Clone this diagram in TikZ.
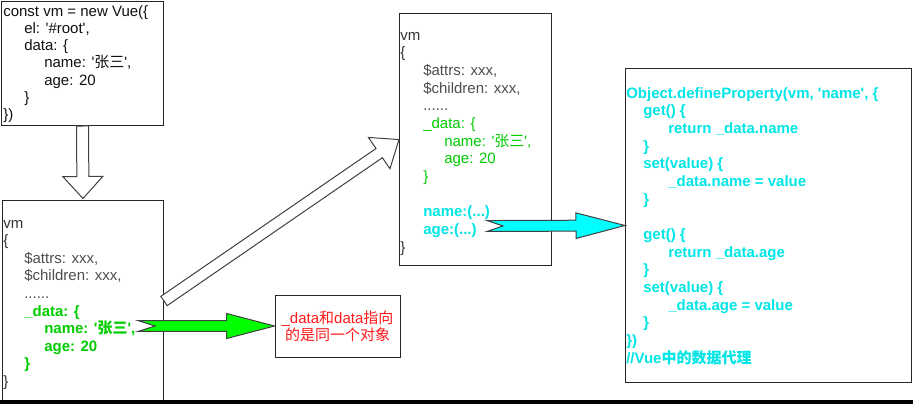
\documentclass[tikz,border=0pt]{standalone}
\usepackage{fontspec}
\setmainfont{Liberation Sans}
\newfontfamily\cjkf{Noto Sans CJK SC}
\usetikzlibrary{calc}
\newcommand\zh[1]{{\cjkf #1}}
\newcommand\q{\textquotesingle}
\newcommand\fs{\fontsize{11.25pt}{13.2pt}\selectfont}
\definecolor{dk}{HTML}{111111}
\definecolor{dg}{HTML}{333333}
\definecolor{gy}{HTML}{4D4D4D}
\definecolor{gr}{HTML}{00CC00}
\definecolor{cy}{HTML}{00E5E5}
\definecolor{cyfill}{HTML}{00FFFF}
\definecolor{grfill}{HTML}{00FF00}
\definecolor{rd}{HTML}{FF1A1A}
\tikzset{
  box/.style={draw=black!85, line width=0.75pt, fill=white, inner sep=0pt, anchor=north west},
  t/.style={anchor=base west, inner sep=0pt, font=\fs},
  barrow/.style={draw=black!75, line width=0.75pt, line join=miter},
}
% #1 from, #2 to, #3 shaft half width, #4 head half width, #5 head length, #6 notch depth, #7 style
\newcommand\blockarrow[7]{%
  \path[barrow,#7] let \p1=(#1), \p2=(#2), \n1={veclen(\x2-\x1,\y2-\y1)} in
    [shift={(\p1)}, rotate={atan2(\y2-\y1,\x2-\x1)}]
    (0pt,-#3) -- (\n1-#5,-#3) -- (\n1-#5,-#4) -- (\n1,0pt) -- (\n1-#5,#4)
    -- (\n1-#5,#3) -- (0pt,#3) -- (#6,0pt) -- cycle;}
\begin{document}
\begin{tikzpicture}[x=0.75pt,y=-0.75pt]
\useasboundingbox (0,0) rectangle (913,404);
\fill[white] (0,0) rectangle (913,404);
% boxes
\node[box, minimum width=121.5pt, minimum height=93pt] (b1) at (1,1) {};
\node[box, minimum width=120.75pt, minimum height=150.75pt] (b2) at (2,200) {};
\node[box, minimum width=114pt, minimum height=189pt] (b3) at (399,13) {};
\node[box, minimum width=214.5pt, minimum height=235.5pt] (b4) at (625,68) {};
\node[box, anchor=center, minimum width=93.75pt, minimum height=46.5pt, align=center,
      text=rd, font={\fontsize{11.25pt}{12.75pt}\selectfont}] (note) at (337.5,326)
      {\_data\zh{和}data\zh{指向}\\\zh{的是同一个对象}};
% bottom bar
\fill[black] (0,400) rectangle (913,404);
% box 1 text
\begin{scope}[every node/.style={t, text=dk}]
\node (a1) at (3,16)    {const vm = new Vue(\{};
\node (a2) at (24,33.3) {el: \q\#root\q,};
\node (a3) at (24,50.6) {data: \{};
\node (a4) at (44,67.9) {name: \q\zh{张三}\q,};
\node (a5) at (44,85.2) {age: 20};
\node (a6) at (24,102.5) {\}};
\node (a7) at (3,119.8) {\})};
\end{scope}
% box 2 text
\node[t, text=dg] (c1) at (3,228) {vm};
\node[t, text=dg] (c2) at (3,245.6) {\{};
\node[t, text=gy] (c3) at (24,263.2) {\$attrs: xxx,};
\node[t, text=gy] (c4) at (24,280.8) {\$children: xxx,};
\node[t, text=gy] (c5) at (24,298.4) {......};
\begin{scope}[every node/.style={t, text=gr, font=\fs\bfseries}]
\node (c6) at (24,316) {\_data: \{};
\node (c7) at (44,333.6) {name: \q\zh{张三}\q,};
\node (c8) at (44,351.2) {age: 20};
\node (c9) at (24,368.8) {\}};
\end{scope}
\node[t, text=dg] (c10) at (3,386.4) {\}};
% box 3 text
\node[t, text=dg] (d1) at (400,40) {vm};
\node[t, text=dg] (d2) at (400,57.7) {\{};
\node[t, text=gy] (d3) at (423,75.3) {\$attrs: xxx,};
\node[t, text=gy] (d4) at (423,93) {\$children: xxx,};
\node[t, text=gy] (d5) at (423,110.7) {......};
\node[t, text=gr] (d6) at (423,128.3) {\_data: \{};
\node[t, text=gr] (d7) at (444,146) {name: \q\zh{张三}\q,};
\node[t, text=gr] (d8) at (444,163.7) {age: 20};
\node[t, text=gr] (d9) at (423,181.3) {\}};
\node[t, text=cy, font=\fs\bfseries] (d10) at (423,216.7) {name:(...)};
\node[t, text=cy, font=\fs\bfseries] (d11) at (423,234.3) {age:(...)};
\node[t, text=dg] (d12) at (400,252) {\}};
% box 4 text
\begin{scope}[every node/.style={t, text=cy, font=\fs\bfseries}]
\node (e1)  at (626,98)    {Object.defineProperty(vm, \q name\q, \{};
\node (e2)  at (643,115.7) {get() \{};
\node (e3)  at (668,133.3) {return \_data.name};
\node (e4)  at (643,151)   {\}};
\node (e5)  at (643,168.7) {set(value) \{};
\node (e6)  at (668,186.3) {\_data.name = value};
\node (e7)  at (643,204)   {\}};
\node (e8)  at (643,239.3) {get() \{};
\node (e9)  at (668,257)   {return \_data.age};
\node (e10) at (643,274.7) {\}};
\node (e11) at (643,292.3) {set(value) \{};
\node (e12) at (668,310)   {\_data.age = value};
\node (e13) at (643,327.7) {\}};
\node (e14) at (626,345.3) {\})};
\node (e15) at (626,363)   {//Vue\zh{中的数据代理}};
\end{scope}
% connectors
\coordinate (dtip) at ($(b2.north)+(0,-1.5)$);
\coordinate (gtail) at (138,326);
\coordinate (ctail) at (487,226);
\blockarrow{b1.south}{dtip}{4.5pt}{15pt}{16.5pt}{0pt}{fill=white}
\blockarrow{b2.east}{b3.west}{4.2pt}{14.25pt}{18pt}{0pt}{fill=white}
\blockarrow{gtail}{note.west}{4.1pt}{9.4pt}{36pt}{12.75pt}{fill=grfill}
\blockarrow{ctail}{b4.west}{4.1pt}{9.6pt}{36.75pt}{12pt}{fill=cyfill}
\end{tikzpicture}
\end{document}
